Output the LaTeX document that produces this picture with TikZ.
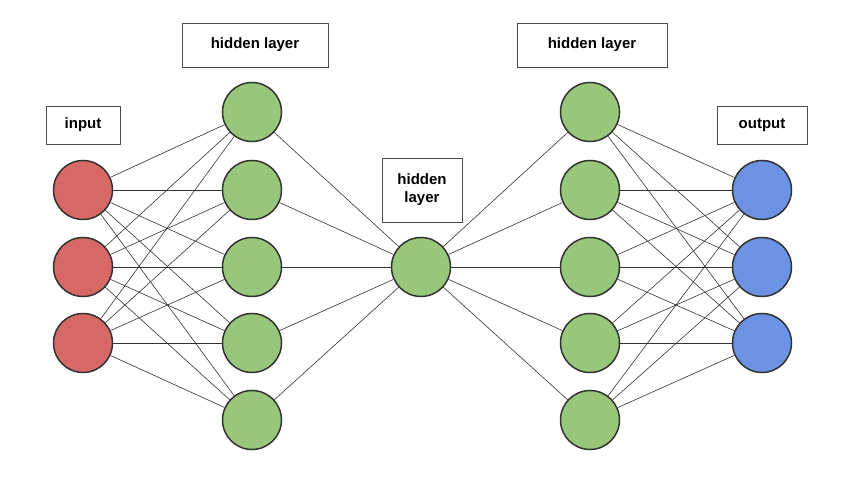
\documentclass[tikz,border=0pt]{standalone}
\usepackage{fontspec}
\setmainfont{Liberation Sans}
\begin{document}
\begin{tikzpicture}[x=1pt,y=-1pt,
  neu/.style={circle,draw=black!80,line width=1.5pt,minimum size=59pt,inner sep=0pt},
  inp/.style={neu,fill={rgb,255:red,214;green,104;blue,102}},
  hid/.style={neu,fill={rgb,255:red,152;green,198;blue,122}},
  outp/.style={neu,fill={rgb,255:red,108;green,146;blue,228}},
  lab/.style={draw=black!70,line width=0.8pt,fill=white,font=\bfseries\fontsize{15}{18}\selectfont,align=center},
  edge/.style={draw=black!80,line width=0.6pt}]
\useasboundingbox (0,0) rectangle (841,478);
\foreach \i/\y in {1/190,2/267,3/343} \node[inp] (i\i) at (83,\y) {};
\foreach \i/\y in {1/112,2/190,3/267,4/343,5/420} \node[hid] (a\i) at (252,\y) {};
\node[hid] (m) at (421,267) {};
\foreach \i/\y in {1/112,2/190,3/267,4/343,5/420} \node[hid] (b\i) at (590,\y) {};
\foreach \i/\y in {1/190,2/267,3/343} \node[outp] (o\i) at (762,\y) {};
\foreach \i in {1,2,3} \foreach \j in {1,...,5} {\draw[edge] (i\i) -- (a\j); \draw[edge] (b\j) -- (o\i);}
\foreach \j in {1,...,5} {\draw[edge] (a\j) -- (m); \draw[edge] (m) -- (b\j);}
\node[lab,minimum width=74pt,minimum height=38pt] (l1) at (83,125) {input};
\node[lab,minimum width=146pt,minimum height=44pt] (l2) at (255,45) {hidden layer};
\node[lab,minimum width=80pt,minimum height=64pt] (l3) at (422,190) {hidden\\layer};
\node[lab,minimum width=150pt,minimum height=44pt] (l4) at (592,45) {hidden layer};
\node[lab,minimum width=90pt,minimum height=38pt] (l5) at (762,125) {output};
\end{tikzpicture}
\end{document}
